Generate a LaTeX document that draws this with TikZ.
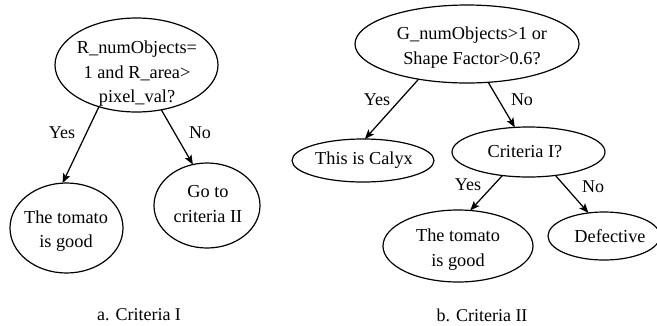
\documentclass[tikz,border=0pt]{standalone}
\usepackage{fontspec}
\setmainfont{Liberation Serif}
\usetikzlibrary{shapes.geometric,arrows.meta}
\begin{document}
\begin{tikzpicture}[x=1pt,y=-1pt,
  ell/.style={draw=black, line width=1.2pt, ellipse, inner sep=0pt, outer sep=0pt},
  txt/.style={align=center, inner sep=0pt, font=\fontsize{18.3}{24.5}\selectfont},
  lbl/.style={inner sep=0pt, font=\fontsize{18}{22}\selectfont},
  arr/.style={line width=1.25pt, -{Stealth[length=9.5pt,width=7.5pt,inset=2pt]}}]
\useasboundingbox (0,0) rectangle (657,325);
% --- diagram a ---
\node[ell, minimum width=163pt, minimum height=94pt] (r1) at (136.5,65) {};
\node[txt] (r1t) at (137,74) {R\_numObjects=\\1 and R\_area>\\pixel\_val?};
\node[ell, minimum width=113pt, minimum height=90pt] (g1) at (66.5,228) {};
\node[txt] (g1t) at (66,231) {The tomato\\is good};
\node[ell, minimum width=106pt, minimum height=85pt] (c2) at (207,205.5) {};
\node[txt] (c2t) at (208,204) {Go to\\criteria II};
\draw[arr] (r1.228.7) -- (g1.95.6);
\draw[arr] (r1.299.4) -- (c2.109);
\node[lbl] (y1) at (62,133) {Yes};
\node[lbl] (n1) at (200,133) {No};
\node[lbl] (capa) at (139,315) {a. Criteria I};
% --- diagram b ---
\node[ell, minimum width=224pt, minimum height=78pt] (r2) at (467,44) {};
\node[txt] (r2t) at (472,47.5) {G\_numObjects>1 or\\Shape Factor>0.6?};
\node[ell, minimum width=142pt, minimum height=43pt] (cal) at (363,160.5) {};
\node[txt] (calt) at (364,160) {This is Calyx};
\node[ell, minimum width=153pt, minimum height=50pt] (cr) at (528.5,152) {};
\node[txt] (crt) at (525,152) {Criteria I?};
\node[ell, minimum width=150pt, minimum height=72pt] (g2) at (458,246) {};
\node[txt] (g2t) at (458,249.5) {The tomato\\is good};
\node[ell, minimum width=112pt, minimum height=48pt] (df) at (604,236) {};
\node[txt] (dft) at (610,236) {Defective};
\draw[arr] (r2.216.5) -- (cal.85);
\draw[arr] (r2.299) -- (cr.119.9);
\draw[arr] (cr.222.2) -- (g2.71.6);
\draw[arr] (cr.319.9) -- (df.124.8);
\node[lbl] (y2) at (377,100) {Yes};
\node[lbl] (n2) at (522,100) {No};
\node[lbl] (y3) at (468,185) {Yes};
\node[lbl] (n3) at (593,187) {No};
\node[lbl] (capb) at (482,315) {b. Criteria II};
\end{tikzpicture}
\end{document}
